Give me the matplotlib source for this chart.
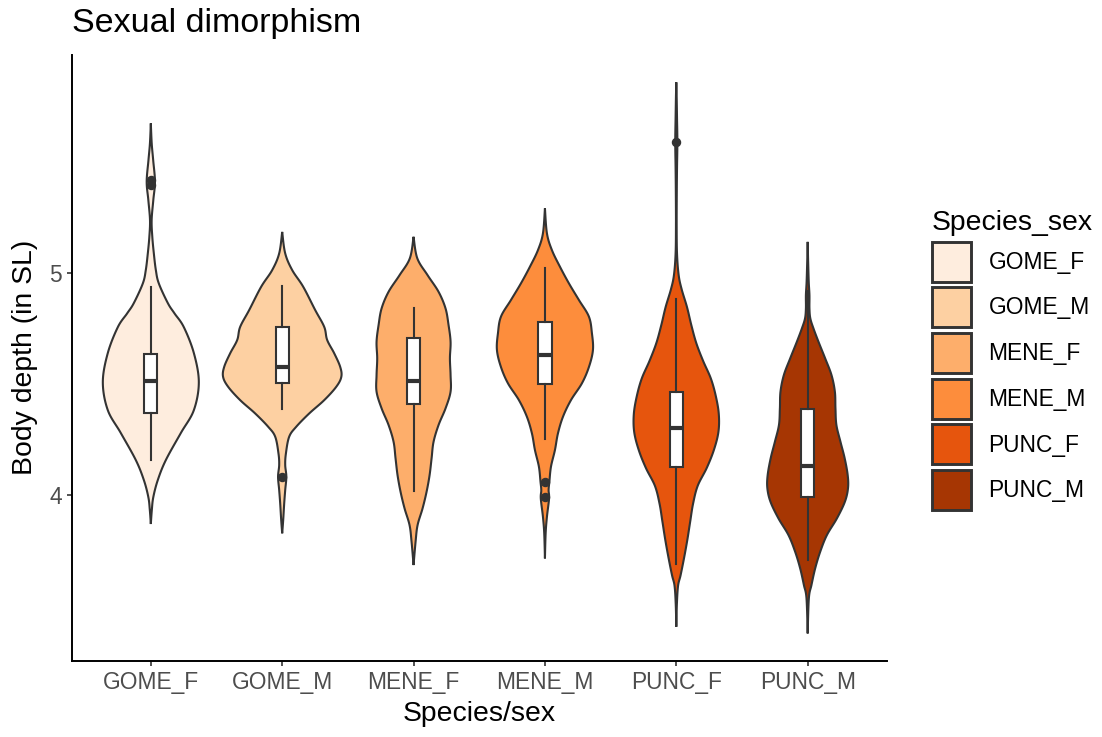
import numpy as np
import matplotlib
matplotlib.use("Agg")
import matplotlib.pyplot as plt
from matplotlib.patches import Patch

plt.rcParams['font.family'] = ['Liberation Sans', 'DejaVu Sans']

# ---- data -------------------------------------------------------------
groups = ["GOME_F", "GOME_M", "MENE_F", "MENE_M", "PUNC_F", "PUNC_M"]
fills = ["#FEEDDE", "#FDD0A2", "#FDAE6B", "#FD8D3C", "#E6550D", "#A63603"]

# violin outlines: body depth levels and relative density (1 = widest violin)
gome_f_y = [3.871, 3.934, 3.992, 4.069, 4.159, 4.281, 4.384, 4.510, 4.641, 4.758, 4.820,
            4.866, 4.955, 5.015, 5.090, 5.165, 5.240, 5.330, 5.413, 5.510, 5.586, 5.676]
gome_f_d = [0, .017, .042, .118, .254, .508, .728, .812, .728, .558, .400,
            .288, .135, .085, .051, .025, .014, .042, .070, .040, .015, 0]

gome_m_y = [3.829, 3.889, 3.964, 4.024, 4.084, 4.137, 4.189, 4.264, 4.309, 4.369, 4.429,
            4.489, 4.534, 4.579, 4.640, 4.700, 4.759, 4.835, 4.940, 5.015, 5.090, 5.187]
gome_m_d = [0, .017, .034, .051, .070, .051, .063, .118, .237, .457, .711,
            .914, 1.0, .981, .880, .761, .711, .558, .355, .169, .051, 0]

mene_f_y = [3.686, 3.791, 3.866, 3.941, 4.016, 4.091, 4.167, 4.241, 4.317, 4.392,
            4.467, 4.542, 4.617, 4.692, 4.767, 4.842, 4.917, 4.992, 5.068, 5.165]
mene_f_d = [0, .034, .068, .152, .220, .271, .305, .338, .423, .541,
            .626, .626, .615, .626, .592, .541, .423, .237, .063, 0]

mene_m_y = [3.716, 3.829, 3.904, 3.986, 4.024, 4.061, 4.129, 4.204, 4.279, 4.354, 4.429,
            4.505, 4.579, 4.655, 4.730, 4.805, 4.880, 4.955, 5.030, 5.105, 5.180, 5.293]
mene_m_d = [0, .012, .034, .070, .062, .075, .102, .169, .220, .305, .440,
            .626, .745, .812, .795, .744, .575, .406, .254, .118, .034, 0]

punc_f_y = [3.408, 3.512, 3.593, 3.641, 3.722, 3.802, 3.882, 3.963, 4.043, 4.123,
            4.204, 4.285, 4.365, 4.445, 4.526, 4.606, 4.686, 4.767, 4.848, 4.928,
            4.992, 5.089, 5.218, 5.362, 5.475, 5.591, 5.700, 5.797, 5.861]
punc_f_d = [0, .010, .030, .073, .134, .188, .235, .284, .362, .514,
            .635, .712, .719, .670, .585, .453, .338, .254, .181, .091,
            .040, .012, .006, .008, .012, .018, .012, .006, 0]

punc_m_y = [3.378, 3.536, 3.596, 3.671, 3.746, 3.821, 3.896, 3.971, 4.032, 4.091,
            4.167, 4.241, 4.317, 4.392, 4.467, 4.542, 4.617, 4.692, 4.752, 4.797,
            4.842, 4.902, 4.962, 5.052, 5.142]
punc_m_d = [0, .020, .064, .127, .212, .325, .494, .629, .682, .677,
            .626, .555, .486, .470, .460, .403, .296, .183, .098, .045,
            .030, .030, .018, .008, 0]

violin_y = [gome_f_y, gome_m_y, mene_f_y, mene_m_y, punc_f_y, punc_m_y]
violin_d = [gome_f_d, gome_m_d, mene_f_d, mene_m_d, punc_f_d, punc_m_d]

# boxplot statistics
q1 = [4.372, 4.505, 4.413, 4.500, 4.127, 3.994]
med = [4.516, 4.579, 4.516, 4.632, 4.304, 4.133]
q3 = [4.635, 4.757, 4.710, 4.780, 4.465, 4.389]
whislo = [4.159, 4.389, 4.021, 4.252, 3.689, 3.709]
whishi = [4.940, 4.943, 4.842, 5.023, 4.883, 4.920]
outliers = [[5.400, 5.420], [4.081], [], [4.061, 3.994], [5.591], []]

# ---- helpers ----------------------------------------------------------
def smooth_outline(y, d, steps=14):
    """Catmull-Rom curve through the (y, density) outline points."""
    p = np.column_stack([y, d]).astype(float)
    p = np.vstack([p[0], p, p[-1]])
    t = np.linspace(0, 1, steps, endpoint=False)[:, None]
    parts = []
    for i in range(1, len(p) - 2):
        p0, p1, p2, p3 = p[i - 1], p[i], p[i + 1], p[i + 2]
        parts.append(0.5 * (2 * p1 + (-p0 + p2) * t
                            + (2 * p0 - 5 * p1 + 4 * p2 - p3) * t ** 2
                            + (-p0 + 3 * p1 - 3 * p2 + p3) * t ** 3))
    parts.append(p[-2][None, :])
    s = np.vstack(parts)
    return s[:, 0], np.clip(s[:, 1], 0, None)

EDGE = "#333333"
MAX_HALF = 0.45  # widest violin spans 0.9 of a category slot

# ---- figure -----------------------------------------------------------
W, H = 1102, 737
fig = plt.figure(figsize=(W / 100, H / 100), dpi=100)
ax = fig.add_axes([72 / W, (H - 661) / H, 814.5 / W, 606.3 / H])

positions = np.arange(len(groups))
for pos, ys, ds, col in zip(positions, violin_y, violin_d, fills):
    sy, sd = smooth_outline(ys, ds)
    half = MAX_HALF * sd
    xs = np.concatenate([pos + half, (pos - half)[::-1]])
    yy = np.concatenate([sy, sy[::-1]])
    ax.fill(xs, yy, facecolor=col, edgecolor=EDGE, linewidth=1.5, zorder=2)

stats = [dict(med=m, q1=a, q3=b, whislo=lo, whishi=hi, fliers=f)
         for m, a, b, lo, hi, f in zip(med, q1, q3, whislo, whishi, outliers)]
ax.bxp(stats, positions=positions, widths=0.1, showcaps=False, patch_artist=True,
       boxprops=dict(facecolor="white", edgecolor=EDGE, linewidth=1.5),
       medianprops=dict(color=EDGE, linewidth=3.0, solid_capstyle="butt"),
       whiskerprops=dict(color=EDGE, linewidth=1.5),
       flierprops=dict(marker="o", markerfacecolor=EDGE, markeredgecolor=EDGE,
                       markersize=5.8),
       zorder=3)

# scales: 5% expansion on y, 0.6 on discrete x
all_y = np.concatenate([np.asarray(v) for v in violin_y])
lo, hi = all_y.min(), all_y.max()
pad = 0.05 * (hi - lo)
ax.set_ylim(lo - pad, hi + pad)
ax.set_xlim(-0.6, len(groups) - 1 + 0.6)

ax.set_xticks(positions)
ax.set_xticklabels(groups)
ax.set_yticks([4, 5])
ax.set_yticklabels(["4", "5"])

for side in ("top", "right"):
    ax.spines[side].set_visible(False)
for side in ("left", "bottom"):
    ax.spines[side].set_linewidth(1.4)
    ax.spines[side].set_color("black")
ax.tick_params(axis="both", length=3.6, width=1.2, color=EDGE,
               labelsize=16.4, labelcolor="#4D4D4D", pad=3.5)

ax.set_xlabel("Species/sex", fontsize=20.4, labelpad=5)
ax.set_ylabel("Body depth (in SL)", fontsize=20.4, labelpad=8)

fig.text(72 / W, 1 - 31.7 / H, "Sexual dimorphism", fontsize=24.5,
         ha="left", va="baseline")

handles = [Patch(facecolor=c, edgecolor=EDGE, linewidth=2.1) for c in fills]
fig.legend(handles, groups, title="Species_sex", loc="upper left",
           bbox_to_anchor=(931.5 / W, 1 - 210 / H), frameon=False,
           fontsize=16.4, title_fontsize=20.4, handlelength=1.756,
           handleheight=2.325, labelspacing=0.25, handletextpad=0.75,
           borderpad=0, borderaxespad=0, alignment="left")

fig.savefig("out.png", dpi=100)
